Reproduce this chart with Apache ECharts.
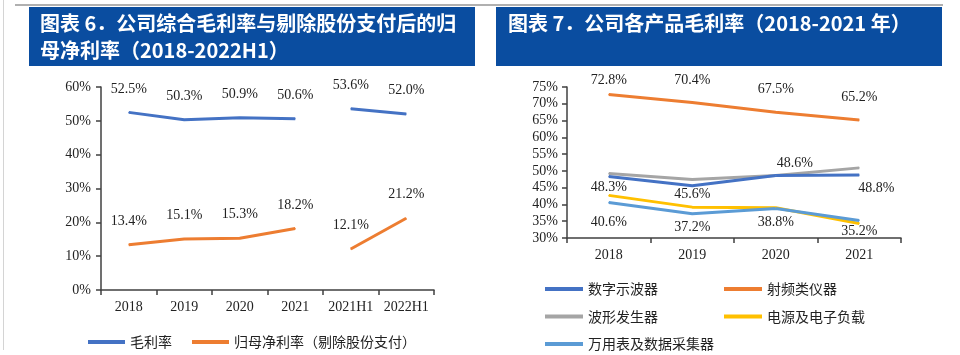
<!DOCTYPE html>
<html>
<head>
<meta charset="utf-8">
<script src="https://cdn.jsdelivr.net/npm/echarts@6/dist/echarts.min.js"></script>
<style>
html,body{margin:0;padding:0;background:#fff;}
#c{width:960px;height:355px;}
</style>
</head>
<body>
<div id="c"></div>
<script>
// ---- data ----
const leftCats = ['2018', '2019', '2020', '2021', '2021H1', '2022H1'];
const grossAnnual = [52.5, 50.3, 50.9, 50.6];
const grossHalf = [53.6, 52.0];
const netAnnual = [13.4, 15.1, 15.3, 18.2];
const netHalf = [12.1, 21.2];
const leftTicks = [0, 10, 20, 30, 40, 50, 60];

const rightCats = ['2018', '2019', '2020', '2021'];
const scopeVals = [48.3, 45.6, 48.6, 48.8];   // 数字示波器
const rfVals = [72.8, 70.4, 67.5, 65.2];      // 射频类仪器
const waveVals = [49.2, 47.4, 48.6, 50.9];    // 波形发生器
const powerVals = [42.7, 39.2, 39.0, 34.3];   // 电源及电子负载
const dmmVals = [40.6, 37.2, 38.8, 35.2];     // 万用表及数据采集器
const rightTicks = [30, 35, 40, 45, 50, 55, 60, 65, 70, 75];

const leftTitle1 = '图表 6．公司综合毛利率与剔除股份支付后的归';
const leftTitle2 = '母净利率（2018-2022H1）';
const rightTitle = '图表 7．公司各产品毛利率（2018-2021 年）';

// ---- styling ----
const SERIF = "'Liberation Serif','Times New Roman',serif";
const CJK = "'Noto Sans CJK SC','Noto Sans',sans-serif";
const BLUE = '#4472C4', ORANGE = '#ED7D31', GRAY = '#A5A5A5', YELLOW = '#FFC000', LBLUE = '#5B9BD5';
const HEAD = '#0A4DA0';
const AX = '#404040';
const fmt = p => Number(p.value).toFixed(1) + '%';

const pad = (arr, before, after) => Array(before).fill('-').concat(arr, Array(after).fill('-'));

function lineSeries(name, data, color, xi, label) {
  return {
    type: 'line', name: name, data: data,
    xAxisIndex: xi, yAxisIndex: xi,
    symbol: 'circle', symbolSize: 1, showSymbol: true,
    itemStyle: { color: color },
    lineStyle: { color: color, width: 3 },
    emphasis: { disabled: true },
    animation: false,
    label: Object.assign({ show: true, formatter: fmt, fontFamily: SERIF, fontSize: 14, color: '#222' }, label || { show: false })
  };
}

function withLabels(vals, cfgs) {
  return vals.map((v, i) => ({ value: v, label: cfgs[i] }));
}

const scopeLabelCfg = [
  { position: 'bottom', distance: 3 },
  { position: 'bottom', distance: 1 },
  { position: 'top', distance: 5, offset: [19, 0] },
  { position: 'bottom', distance: 6, offset: [17, 0] }
];
const dmmLabelCfg = [
  { position: 'bottom', distance: 12 },
  { position: 'bottom', distance: 6 },
  { position: 'bottom', distance: 6 },
  { position: 'bottom', distance: 3 }
];
const rfLabelCfg = [
  { position: 'top', distance: 15, offset: [0, 8] },
  { position: 'top', distance: 15 },
  { position: 'top', distance: 15 },
  { position: 'top', distance: 15 }
];

function catAxis(cats, gi) {
  return {
    type: 'category', gridIndex: gi, data: cats, boundaryGap: true,
    axisLine: { lineStyle: { color: AX, width: 1.5 } },
    axisTick: { show: true, length: 5, lineStyle: { color: AX, width: 1.5 } },
    axisLabel: { interval: 0, fontFamily: SERIF, fontSize: 14, color: '#222', margin: 10 }
  };
}
function valAxis(gi, min, max, interval, margin) {
  return {
    type: 'value', gridIndex: gi, min: min, max: max, interval: interval,
    axisLine: { show: true, lineStyle: { color: AX, width: 1.5 } },
    axisTick: { show: true, length: 5, lineStyle: { color: AX, width: 1.5 } },
    splitLine: { show: false },
    axisLabel: { fontFamily: SERIF, fontSize: 14, color: '#222', margin: margin, formatter: '{value}%' }
  };
}

const legendBase = {
  icon: 'rect', itemWidth: 37, itemHeight: 4, selectedMode: false, padding: 0,
  textStyle: { fontFamily: CJK, fontSize: 14, color: '#222', lineHeight: 14 }
};

const option = {
  backgroundColor: '#fff',
  animation: false,
  grid: [
    { left: 101, right: 526, top: 87, bottom: 65 },
    { left: 567, right: 59, top: 87, bottom: 117 }
  ],
  xAxis: [catAxis(leftCats, 0), catAxis(rightCats, 1)],
  yAxis: [
    valAxis(0, leftTicks[0], leftTicks[leftTicks.length - 1], leftTicks[1] - leftTicks[0], 10),
    valAxis(1, rightTicks[0], rightTicks[rightTicks.length - 1], rightTicks[1] - rightTicks[0], 9)
  ],
  legend: [
    Object.assign({}, legendBase, { left: 88, top: 335, itemGap: 20, orient: 'horizontal', data: ['毛利率', '归母净利率（剔除股份支付）'] }),
    Object.assign({}, legendBase, { left: 545, top: 282, height: 120, itemGap: 13.5, orient: 'vertical', itemWidth: 38, data: ['数字示波器', '波形发生器', '万用表及数据采集器'] }),
    Object.assign({}, legendBase, { left: 724, top: 282, height: 120, itemGap: 13.5, orient: 'vertical', itemWidth: 38, data: ['射频类仪器', '电源及电子负载'] })
  ],
  series: [
    lineSeries('毛利率', pad(grossAnnual, 0, grossHalf.length), BLUE, 0, { position: 'top', distance: 16 }),
    lineSeries('毛利率', pad(grossHalf, grossAnnual.length, 0), BLUE, 0, { position: 'top', distance: 16 }),
    lineSeries('归母净利率（剔除股份支付）', pad(netAnnual, 0, netHalf.length), ORANGE, 0, { position: 'top', distance: 16 }),
    lineSeries('归母净利率（剔除股份支付）', pad(netHalf, netAnnual.length, 0), ORANGE, 0, { position: 'top', distance: 16 }),

    lineSeries('射频类仪器', withLabels(rfVals, rfLabelCfg), ORANGE, 1, {}),
    lineSeries('波形发生器', waveVals, GRAY, 1, null),
    lineSeries('电源及电子负载', powerVals, YELLOW, 1, null),
    lineSeries('万用表及数据采集器', withLabels(dmmVals, dmmLabelCfg), LBLUE, 1, {}),
    lineSeries('数字示波器', withLabels(scopeVals, scopeLabelCfg), BLUE, 1, {})
  ],
  graphic: [
    { type: 'line', shape: { x1: 3.5, y1: 0, x2: 3.5, y2: 350 }, style: { stroke: '#d4d4d4', lineWidth: 1 }, silent: true },
    { type: 'line', shape: { x1: 15, y1: 5, x2: 943, y2: 5 }, style: { stroke: '#b0b0b0', lineWidth: 2 }, silent: true },
    { type: 'rect', shape: { x: 29, y: 7, width: 446, height: 59 }, style: { fill: HEAD }, silent: true },
    { type: 'rect', shape: { x: 496, y: 7, width: 446, height: 59 }, style: { fill: HEAD }, silent: true },
    { type: 'text', left: 40, top: 13, style: { text: leftTitle1, fill: '#fff', font: "bold 20px 'Noto Sans CJK SC', sans-serif" }, silent: true },
    { type: 'text', left: 40, top: 40, style: { text: leftTitle2, fill: '#fff', font: "bold 20px 'Noto Sans CJK SC', sans-serif" }, silent: true },
    { type: 'text', left: 508, top: 13, style: { text: rightTitle, fill: '#fff', font: "bold 20px 'Noto Sans CJK SC', sans-serif" }, silent: true }
  ]
};

const chart = echarts.init(document.getElementById('c'), null, { renderer: 'canvas' });
chart.setOption(option);
</script>
</body>
</html>
